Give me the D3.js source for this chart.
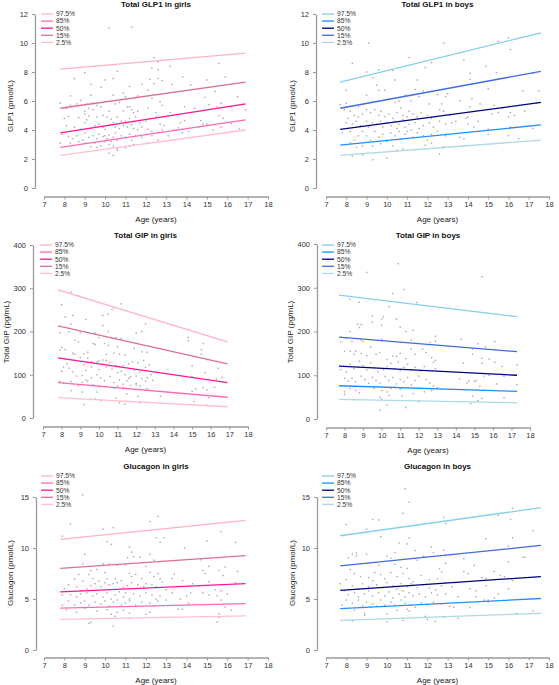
<!DOCTYPE html>
<html lang="en">
<head>
<meta charset="UTF-8">
<title>Hormone percentiles by age</title>
<style>
body { margin: 0; background: #fff; }
svg { display: block; font-family: "Liberation Sans", Arial, sans-serif; }
</style>
</head>
<body>
<div id="chart"></div>
<script src="https://cdnjs.cloudflare.com/ajax/libs/d3/7.8.2/d3.min.js"></script>
<script>
// ---- data ----
var percentiles = ["97.5%", "85%", "50%", "15%", "2.5%"];
var ageTicks = [7, 8, 9, 10, 11, 12, 13, 14, 15, 16, 17, 18];
var glp1Ticks = [0, 2, 4, 6, 8, 10, 12];
var gipTicks = [0, 100, 200, 300, 400];
var glucagonTicks = [0, 5, 10, 15];

// percentile lines: value at first and last age, in legend order
var glp1GirlsAges = [7.8, 16.9];
var glp1GirlsStart = [8.2, 5.5, 3.8, 2.8, 2.25];
var glp1GirlsEnd = [9.3, 7.3, 5.8, 4.7, 4.0];
var glp1BoysAges = [7.7, 17.6];
var glp1BoysStart = [7.3, 5.5, 4.05, 2.95, 2.25];
var glp1BoysEnd = [10.7, 8.05, 5.9, 4.35, 3.3];
var gipGirlsAges = [7.8, 16.9];
var gipGirlsStart = [296, 213, 139, 82, 47];
var gipGirlsEnd = [176, 125, 82, 48, 26];
var gipBoysAges = [7.7, 17.3];
var gipBoysStart = [283, 187, 121, 76, 45];
var gipBoysEnd = [234, 154, 100, 63, 37];
var glucagonGirlsAges = [7.8, 16.9];
var glucagonGirlsStart = [10.85, 8.0, 5.7, 4.1, 3.0];
var glucagonGirlsEnd = [12.7, 9.25, 6.5, 4.55, 3.35];
var glucagonBoysAges = [7.7, 17.6];
var glucagonBoysStart = [11.2, 8.25, 5.85, 4.05, 2.9];
var glucagonBoysEnd = [13.95, 10.25, 7.2, 5.05, 3.6];

// individual measurements [age, value]
var glp1GirlsPoints = [[10.2,11.05],[11.3,11.1],[12.4,9.0],[12.6,8.7],[13.2,8.4],[12.3,8.25],[12.6,8.15],[15.6,8.6],[9.0,7.95],[10.6,8.05],[8.5,7.55],[10.0,7.45],[10.4,7.55],[12.2,7.5],[12.4,7.2],[12.6,7.55],[12.8,7.4],[13.8,7.65],[14.2,7.1],[15.0,7.45],[15.9,7.65],[11.8,7.15],[9.3,7.15],[9.8,6.95],[11.2,7.0],[13.3,7.15],
[8.3,6.35],[8.8,6.05],[9.3,6.4],[10.4,6.4],[10.9,6.55],[11.0,6.3],[11.6,6.35],[12.1,6.75],[12.3,6.2],[12.7,5.95],[15.4,6.65],[16.5,6.3],[14.9,6.25],
[7.8,5.85],[8.1,5.5],[8.3,5.7],[8.6,5.8],[9.0,5.3],[9.1,5.8],[9.4,5.85],[9.6,5.7],[9.2,5.5],[9.4,5.4],[9.8,5.6],[10.5,5.8],[10.7,5.9],[10.2,5.3],[10.9,5.3],[11.1,5.6],[11.3,5.4],[11.6,5.3],[11.2,5.6],[12.1,5.5],[12.5,5.2],[12.8,5.7],[13.2,5.2],[13.9,5.6],[14.4,5.5],[15.1,5.75],[15.7,5.85],[15.5,5.6],[16.9,5.4],[16.2,5.6],[11.4,5.2],
[8.0,4.8],[8.2,4.95],[8.7,4.85],[9.0,5.1],[9.2,4.95],[9.1,4.7],[9.6,4.9],[9.9,5.0],[10.1,4.9],[10.3,4.75],[10.6,4.9],[10.8,4.6],[11.2,4.8],[11.0,4.6],[11.5,4.9],[11.7,4.5],[12.0,4.6],[12.2,4.8],[12.5,4.9],[12.7,4.4],[12.9,4.3],[13.7,4.5],[13.9,4.65],[14.7,4.65],[14.8,4.4],[15.0,4.4],[15.6,5.0],[15.8,4.8],[15.7,4.2],[16.2,4.45],[16.6,4.1],[14.0,4.1],[13.6,4.15],[13.5,4.0],
[8.1,4.3],[8.5,4.2],[8.8,4.05],[9.0,4.5],[9.3,4.1],[9.5,4.3],[9.7,4.4],[9.9,4.2],[10.0,4.05],[10.2,4.3],[10.4,4.5],[10.5,4.2],[10.7,4.1],[10.9,4.3],[11.1,4.2],[11.3,4.35],[11.4,4.1],[11.8,4.2],[12.1,4.05],[12.3,3.9],[12.6,3.85],[12.8,4.0],[14.1,3.9],[14.6,4.2],[15.3,4.0],[11.6,4.0],
[7.9,3.7],[8.2,3.55],[8.4,3.4],[8.6,3.6],[8.9,3.3],[9.0,3.8],[9.2,3.5],[9.4,3.6],[9.6,3.4],[9.7,3.7],[9.9,3.55],[10.0,3.6],[10.1,3.4],[10.2,3.65],[10.3,3.2],[10.4,3.5],[10.5,3.8],[10.6,3.3],[10.8,3.6],[11.0,3.5],[11.2,3.7],[11.3,3.3],[11.5,3.6],[11.8,3.5],[12.0,3.7],[12.3,3.6],[12.6,3.3],[13.1,3.6],[13.8,3.8],
[7.8,3.1],[8.3,3.1],[8.7,3.2],[9.0,3.1],[9.3,2.85],[9.6,2.8],[9.8,2.9],[10.0,3.2],[10.2,3.0],[10.4,2.9],[10.6,2.7],[11.0,2.75],[11.2,2.9],[11.4,3.0],[12.1,3.1],[10.2,2.4],[10.4,2.25],[10.6,2.6],[9.5,3.1]];

var glp1BoysPoints = [[9.1,10.0],[12.8,10.0],[16.0,10.35],[15.5,10.1],[16.1,9.55],[11.1,9.0],[13.8,8.85],[8.3,8.6],[12.2,8.65],[14.9,8.4],[11.9,8.3],[9.6,8.15],[10.3,8.1],[9.0,8.0],[15.4,7.95],[14.1,7.9],[17.2,7.9],[9.3,7.6],[14.1,7.5],[11.5,7.45],[10.4,7.45],[9.5,7.1],[8.0,6.75],[9.6,6.75],[9.9,6.75],[11.8,6.7],[11.4,6.8],[16.7,6.7],[17.5,6.7],[15.0,6.85],[12.5,6.45],[12.9,6.3],[13.0,6.5],[14.2,6.15],[9.0,6.4],[7.7,5.75],[8.0,5.85],[8.6,5.6],[10.0,6.1],[10.4,5.9],[10.6,6.0],[10.9,6.4],[11.2,6.0],[11.6,6.3],[12.1,5.8],[12.7,5.8],[13.6,6.0],[14.1,5.6],[14.6,5.8],[15.3,5.7],[15.7,5.5],[16.1,5.2],[16.8,5.3],[17.4,5.85],
[7.9,5.4],[8.2,5.3],[8.4,5.0],[8.6,4.9],[8.8,5.1],[9.0,5.4],[9.2,5.2],[9.4,5.4],[9.6,5.0],[9.7,5.3],[9.9,4.9],[10.1,5.1],[10.3,4.8],[10.5,5.2],[10.7,5.5],[10.8,5.0],[11.0,4.9],[11.1,5.3],[11.3,5.1],[11.5,4.9],[11.7,5.2],[12.0,5.0],[12.2,4.8],[12.6,5.4],[12.8,5.3],[13.1,5.0],[13.4,4.6],[13.9,4.8],[14.0,4.9],[14.5,4.6],[15.2,5.1],[15.5,5.2],[16.0,4.9],[16.3,5.0],
[8.0,4.5],[8.1,4.8],[8.3,4.4],[8.5,4.6],[8.7,4.3],[9.0,4.6],[9.1,4.2],[9.3,4.5],[9.5,4.4],[9.7,4.6],[9.8,4.2],[10.0,4.5],[10.2,4.3],[10.4,4.6],[10.5,4.1],[10.6,4.4],[10.8,4.7],[10.9,4.2],[11.1,4.4],[11.2,4.0],[11.4,4.5],[11.6,4.1],[11.8,4.3],[12.1,4.5],[12.3,4.2],[12.6,4.6],[12.9,4.4],[13.2,4.5],[14.0,4.4],[14.3,4.2],[15.0,4.05],[16.1,4.2],
[7.8,3.8],[8.2,3.9],[8.4,3.3],[8.6,3.6],[8.8,3.9],[9.0,3.6],[9.2,3.3],[9.4,3.9],[9.6,3.5],[9.8,3.7],[10.0,3.3],[10.2,3.8],[10.4,3.6],[10.6,3.9],[10.7,3.4],[10.9,3.7],[11.0,3.9],[11.3,3.5],[11.5,3.8],[11.8,3.6],[12.0,3.3],[12.2,3.7],[12.5,3.9],[12.9,3.6],[13.6,3.5],[13.8,3.4],[15.0,3.7],[16.0,3.6],[16.5,3.4],[17.2,4.1],
[8.2,3.1],[8.5,2.8],[8.8,2.9],[9.1,3.15],[9.3,2.9],[9.7,3.05],[10.0,3.2],[10.3,2.9],[10.8,2.7],[11.0,2.6],[11.9,2.95],[12.2,3.1],[12.8,2.85],[8.3,2.2],[8.8,2.3],[9.3,1.95],[10.0,2.05],[12.6,2.35],[10.5,2.6]];

var gipGirlsPoints = [[8.5,291],[8.9,283],[11.2,264],[8.0,262],[10.8,255],[10.5,240],[10.2,237],[8.2,234],[8.6,237],[10.7,251],[9.3,228],[12.5,218],[12.3,200],[12.0,196],[10.5,200],[10.2,214],[9.0,197],[7.9,197],[8.5,217],[8.4,199],[9.8,196],[10.0,186],[10.9,186],[11.2,184],[14.8,186],[14.8,179],[15.6,172],[15.5,158],[15.5,147],[15.8,135],[8.7,180],[8.9,176],[7.9,157],[8.0,163],[8.2,158],[8.6,150],[8.7,147],[9.2,148],[9.4,152],[9.7,172],[9.8,170],[10.3,172],[10.5,168],[10.7,185],[11.0,165],[11.4,145],[11.1,148],[10.8,150],[10.4,147],[10.2,134],[9.9,130],[9.7,127],[9.4,138],[9.0,140],[8.2,137],[8.3,125],[8.1,118],[8.4,115],[8.6,107],[8.0,108],[9.2,123],[9.6,130],[10.0,132],[10.4,133],[10.6,128],[10.9,122],[11.3,121],[11.6,125],[11.8,130],[12.1,128],[12.4,133],[12.3,153],[12.6,152],[12.7,123],[11.9,161],[12.2,106],[12.5,117],[12.8,100],[15.0,120],[15.7,105],[16.4,115],[16.6,94],
[9.3,110],[9.6,118],[10.0,112],[10.4,118],[10.7,113],[11.0,105],[11.2,108],[11.4,100],[11.6,92],[11.9,110],[12.0,97],[12.3,91],[12.5,85],[12.6,93],[12.9,87],[9.1,98],[9.3,88],[9.6,93],[9.9,100],[10.1,93],[10.3,86],[10.6,96],[10.8,82],[11.1,88],[11.3,78],[11.5,86],[11.7,95],[12.0,80],[12.2,74],[12.6,68],[15.0,95],[16.3,90],[7.9,85],[8.1,81],[8.5,84],[8.8,97],[8.9,75],[9.1,82],[9.4,85],[9.7,77],[10.0,73],[10.4,73],[10.8,69],[11.0,74],[11.3,70],[11.7,75],[12.0,76],[15.2,67],[15.6,70],[15.8,65],[16.2,71],[15.0,62],[8.5,63],[9.1,60],[9.9,60],[10.9,46],[11.5,56],[12.1,50],[13.3,50],[15.9,47],[9.5,43],[9.8,44],[10.1,40],[11.1,35],[11.4,32],[12.2,35],[9.2,31],[15.1,38],[15.8,29]];

var gipBoysPoints = [[10.9,355],[9.2,335],[15.4,325],[11.2,296],[10.6,287],[8.3,274],[8.8,267],[11.9,266],[10.4,257],[9.5,235],[10.1,234],[9.5,221],[10.0,229],[8.7,217],[8.9,216],[8.8,209],[10.0,214],[10.8,228],[11.0,210],[11.3,200],[11.7,203],[8.3,200],[8.1,185],[8.4,177],[8.9,180],[9.0,177],[10.0,182],[11.6,180],[12.6,175],[12.9,189],[12.9,178],[14.3,182],[15.2,172],[15.6,165],[16.1,177],[14.9,160],[7.8,176],[8.0,155],[8.3,155],[8.6,155],[8.5,148],[8.9,150],[9.2,145],[9.4,164],[9.7,148],[9.9,152],[10.3,136],[10.6,144],[10.8,143],[11.0,150],[11.3,138],[11.6,160],[11.8,148],[12.2,160],[12.4,152],[12.7,140],[12.9,134],[14.4,128],[14.9,148],[15.4,139],[15.4,128],[15.8,137],[16.1,130],[16.5,120],[17.3,124],[7.8,113],[8.0,120],[8.1,108],[8.3,125],[8.5,115],[8.8,132],[9.0,122],[9.2,112],[9.4,128],[9.6,118],[9.8,108],[10.1,113],[10.3,120],[10.5,127],[10.7,115],[10.9,130],[11.0,110],[11.2,118],[11.4,125],[11.6,112],[11.8,118],[12.1,110],[12.3,120],[12.8,130],[12.9,115],[14.2,92],[14.7,87],[15.0,86],[15.5,98],[15.8,100],[16.6,98],[17.3,78],
[8.0,93],[8.2,87],[8.4,93],[8.6,85],[8.9,98],[9.1,90],[9.3,82],[9.5,95],[9.7,88],[9.9,82],[10.2,97],[10.4,88],[10.6,95],[10.8,80],[11.0,90],[11.2,85],[11.4,95],[11.6,78],[11.8,88],[12.0,98],[12.4,90],[12.6,82],[12.8,75],[13.0,72],[14.6,82],[15.1,88],[15.3,75],[16.2,80],[8.0,62],[8.3,70],[8.6,65],[8.8,60],[9.6,70],[10.0,65],[10.3,62],[10.5,70],[10.7,73],[11.0,68],[11.7,58],[12.3,62],[12.7,65],[14.9,52],[15.4,47],[16.6,48],[8.0,56],[9.9,50],[10.0,46],[10.4,54],[11.1,53],[12.0,40],[8.5,44],[10.3,32],[9.9,20],[11.3,26],[14.8,35],[15.2,42]];

var glucagonGirlsPoints = [[8.9,15.2],[12.6,13.1],[8.3,12.35],[12.2,12.6],[10.4,12.0],[9.9,11.85],[12.5,11.0],[12.9,11.0],[15.7,11.6],[7.9,11.15],[12.7,10.55],[15.0,10.7],[16.4,10.55],[10.1,10.6],[10.3,10.35],[11.2,10.1],[13.9,10.0],[11.3,9.6],[12.2,9.4],[9.0,9.4],[11.4,9.15],[11.7,9.1],[12.4,8.8],[14.7,8.85],[12.0,8.2],[9.9,8.45],[10.2,8.45],[11.0,8.35],[10.6,8.3],[11.1,9.05],[8.9,8.45],[15.9,8.15],[15.1,8.2],[14.8,7.8],[15.6,7.8],[16.5,7.7],[9.6,7.9],[9.3,7.8],[10.0,7.6],[8.7,7.4],[9.2,7.4],[9.4,7.0],[8.5,6.95],[8.9,6.75],[9.7,6.75],[10.1,6.95],[10.5,7.0],[10.8,6.8],[11.2,7.5],[11.3,7.2],[11.5,7.4],[11.8,7.0],[12.2,7.6],[12.4,7.2],[12.6,7.5],[12.7,6.95],[13.4,7.45],[13.3,7.0],[13.8,6.8],[14.9,7.5],[15.8,7.3],[16.4,6.6],[15.1,6.7],[12.8,6.65],[8.0,6.0],[8.2,6.4],[8.6,6.2],[8.8,5.8],[9.1,6.0],[9.3,6.3],[9.5,6.5],[9.8,6.2],[10.0,6.6],[10.2,6.4],[10.4,6.5],[10.6,6.6],[10.9,6.1],[11.1,6.3],[11.3,6.6],[11.6,6.4],[11.9,6.2],[12.0,6.5],[12.3,6.4],[12.5,6.2],[13.0,5.9],[14.3,6.5],[14.6,6.3],[15.4,5.9],[15.7,5.8],
[7.9,5.4],[8.3,5.4],[8.6,5.2],[8.8,5.5],[9.1,5.6],[9.4,5.3],[9.6,5.5],[9.9,5.2],[10.1,5.6],[10.3,5.0],[10.5,5.4],[10.7,5.7],[10.9,5.2],[11.0,5.6],[11.2,5.0],[11.4,5.5],[11.7,5.3],[12.0,5.6],[12.3,5.4],[12.5,5.0],[12.7,5.3],[13.3,5.6],[14.0,5.3],[14.2,5.6],[14.8,5.6],[15.1,5.4],[15.5,5.3],[16.0,5.5],[8.2,4.8],[8.5,4.4],[8.8,4.6],[9.0,4.8],[9.2,4.4],[9.5,4.7],[9.8,4.5],[10.0,4.8],[10.2,4.3],[10.4,4.7],[10.6,4.9],[10.8,4.4],[11.0,4.6],[11.2,4.8],[11.5,4.4],[11.8,4.7],[12.2,4.6],[12.4,4.3],[12.6,4.8],[13.0,4.9],[13.7,5.0],[15.7,4.9],[15.9,4.2],[16.2,3.9],[7.9,4.4],[8.1,3.95],[8.6,3.7],[9.0,4.1],[9.6,3.8],[10.1,3.95],[10.3,3.5],[10.5,3.3],[10.6,3.7],[10.9,3.9],[11.2,3.6],[12.2,3.7],[12.0,3.5],[13.6,4.0],[13.8,4.0],[11.2,3.1],[9.3,2.7],[9.2,2.6],[10.4,2.35],[15.6,3.55],[15.5,2.75],[15.6,3.2],[14.1,4.6]];

var glucagonBoysPoints = [[10.9,15.8],[11.1,14.5],[10.8,13.4],[9.3,12.8],[9.6,12.75],[12.8,13.0],[12.9,12.4],[8.0,12.3],[16.2,13.9],[16.1,12.8],[15.5,13.2],[9.0,11.85],[9.7,11.1],[11.1,11.0],[16.2,11.0],[17.2,11.7],[14.9,10.9],[11.0,10.4],[10.6,10.5],[12.2,10.1],[16.0,10.2],[8.5,9.5],[8.3,9.4],[8.1,9.05],[9.0,9.4],[8.5,9.25],[10.0,9.2],[10.4,9.55],[11.4,9.75],[12.3,9.55],[12.8,9.8],[11.8,9.2],[11.5,8.8],[11.9,9.1],[12.9,9.25],[13.8,8.95],[16.7,9.1],[16.8,9.1],[16.0,8.65],[10.2,9.0],[10.9,8.9],[9.6,8.3],[10.4,8.4],[10.7,8.1],[11.0,8.0],[12.9,8.5],[14.3,8.3],[12.6,7.95],[12.7,7.65],[14.7,7.1],[14.9,7.0],[15.3,7.7],[15.6,7.3],[15.8,7.2],[16.2,6.8],[13.8,7.7],[14.0,7.5],[8.2,7.9],[8.4,7.5],[8.7,7.2],[9.1,7.1],[9.4,7.6],[9.7,7.4],[9.9,7.0],[10.2,7.6],[10.5,7.2],[10.8,7.5],[11.1,7.0],[11.3,6.7],[11.7,7.3],[12.1,6.9],[12.5,7.0],[12.9,6.6],[13.4,6.6],[7.7,6.5],[8.0,6.9],[8.3,6.3],[8.6,6.0],[8.8,6.5],[9.1,6.2],[9.3,6.8],[9.5,6.4],[9.8,6.1],[10.0,6.6],[10.3,6.3],[10.5,6.0],[10.7,6.5],[11.0,6.2],[11.2,6.5],[11.5,6.1],[11.8,6.4],[12.1,6.1],[12.4,5.9],[12.7,6.3],[13.2,6.2],[14.1,6.0],[14.4,5.8],[14.9,6.3],[15.5,5.5],[16.0,6.0],
[7.9,5.8],[8.1,5.4],[8.4,5.6],[8.6,5.2],[8.9,5.5],[9.1,5.8],[9.3,5.3],[9.6,5.6],[9.9,5.3],[10.1,5.7],[10.3,5.1],[10.6,5.5],[10.8,5.8],[10.9,5.2],[11.1,5.6],[11.3,5.3],[11.6,5.5],[11.9,5.2],[12.2,5.6],[12.5,5.4],[12.9,5.5],[13.5,5.2],[14.4,5.2],[15.0,4.9],[15.3,5.1],[8.0,4.9],[8.3,4.6],[8.6,4.9],[8.8,4.3],[9.0,4.7],[9.3,4.5],[9.5,4.3],[9.7,4.9],[9.9,4.4],[10.2,4.7],[10.4,4.4],[10.7,4.9],[10.9,4.6],[11.0,4.0],[11.2,4.4],[11.4,4.2],[11.7,4.6],[12.0,4.4],[12.3,4.7],[12.7,4.5],[13.1,4.3],[14.1,4.2],[14.8,4.9],[7.8,4.4],[8.4,3.9],[8.9,3.4],[9.2,4.2],[10.0,3.5],[10.5,3.9],[11.1,3.8],[11.9,3.3],[12.8,3.2],[13.5,3.1],[16.4,3.6],[17.2,3.85],[8.3,2.85],[10.0,2.75],[10.8,2.9],[12.0,3.0],[12.4,2.8],[8.9,3.6],[13.3,4.2],[15.0,4.7]];

// ---- drawing ----
var girlColors = ["#ffb3c1", "#ff69b4", "#ff1493", "#db7093", "#ffc0cb"];
var boyColors = ["#87ceeb", "#1e90ff", "#000080", "#4169e1", "#add8e6"];
// the plotted 85% and 15% lines use each other's legend colour in the original
var lineColorIndex = [0, 3, 2, 1, 4];
var axisGrey = "#9a9a9a";

var svg = d3.select("#chart").append("svg")
  .attr("width", 559)
  .attr("height", 685);

var panels = [
  {title: "Total GLP1 in girls", ylab: "GLP1 (pmol/L)", ymax: 12, ticks: glp1Ticks,
   points: glp1GirlsPoints, ages: glp1GirlsAges, start: glp1GirlsStart, end: glp1GirlsEnd, colors: girlColors,
   left: 44, right: 268, top: 14, bottom: 188, yAxisX: 35, xAxisY: 196.5, ylabX: 10, ylabY: 106, titleY: 7, legX: 41, legY: 14},
  {title: "Total GLP1 in boys", ylab: "GLP1 (pmol/L)", ymax: 12, ticks: glp1Ticks,
   points: glp1BoysPoints, ages: glp1BoysAges, start: glp1BoysStart, end: glp1BoysEnd, colors: boyColors,
   left: 326, right: 549, top: 14, bottom: 188, yAxisX: 316, xAxisY: 196.5, ylabX: 292, ylabY: 106, titleY: 7, legX: 322, legY: 14},
  {title: "Total GIP in girls", ylab: "Total GIP (pg/mL)", ymax: 400, ticks: gipTicks,
   points: gipGirlsPoints, ages: gipGirlsAges, start: gipGirlsStart, end: gipGirlsEnd, colors: girlColors,
   left: 43, right: 248, top: 245, bottom: 418, yAxisX: 33, xAxisY: 426.5, ylabX: 6, ylabY: 332, titleY: 238, legX: 40, legY: 245},
  {title: "Total GIP in boys", ylab: "Total GIP (pg/mL)", ymax: 400, ticks: gipTicks,
   points: gipBoysPoints, ages: gipBoysAges, start: gipBoysStart, end: gipBoysEnd, colors: boyColors,
   left: 326, right: 530, top: 244, bottom: 419, yAxisX: 317, xAxisY: 427.5, ylabX: 290, ylabY: 332, titleY: 238, legX: 322, legY: 245},
  {title: "Glucagon in girls", ylab: "Glucagon (pmol/L)", ymax: 15, ticks: glucagonTicks,
   points: glucagonGirlsPoints, ages: glucagonGirlsAges, start: glucagonGirlsStart, end: glucagonGirlsEnd, colors: girlColors,
   left: 44, right: 268, top: 497, bottom: 650, yAxisX: 36, xAxisY: 657.5, ylabX: 10, ylabY: 573, titleY: 469, legX: 41, legY: 476},
  {title: "Glucagon in boys", ylab: "Glucagon (pmol/L)", ymax: 15, ticks: glucagonTicks,
   points: glucagonBoysPoints, ages: glucagonBoysAges, start: glucagonBoysStart, end: glucagonBoysEnd, colors: boyColors,
   left: 326, right: 549, top: 497, bottom: 650, yAxisX: 317, xAxisY: 657.5, ylabX: 292, ylabY: 573, titleY: 469, legX: 322, legY: 476}
];

function styleAxis(sel) {
  sel.select(".domain").attr("stroke", axisGrey).attr("stroke-width", 1.3);
  sel.selectAll(".tick line").attr("stroke", axisGrey).attr("stroke-width", 1);
  sel.selectAll(".tick text").attr("fill", "#333").attr("font-size", 7.5)
    .attr("font-family", "'Liberation Sans', Arial, sans-serif");
}

panels.forEach(function(p) {
  var x = d3.scaleLinear().domain([7, 18]).range([p.left, p.right]);
  var y = d3.scaleLinear().domain([0, p.ymax]).range([p.bottom, p.top]);
  var g = svg.append("g");

  // axes
  g.append("g")
    .attr("transform", "translate(0," + p.xAxisY + ")")
    .call(d3.axisBottom(x).tickValues(ageTicks).tickSize(3).tickSizeOuter(0).tickPadding(2))
    .call(styleAxis);
  g.append("g")
    .attr("transform", "translate(" + p.yAxisX + ",0)")
    .call(d3.axisLeft(y).tickValues(p.ticks).tickSize(3).tickSizeOuter(0).tickPadding(4))
    .call(styleAxis);

  // measurements
  g.append("g").selectAll("rect")
    .data(p.points)
    .enter()
    .append("rect")
    .attr("x", function(d) { return x(d[0]) - 0.7; })
    .attr("y", function(d) { return y(d[1]) - 0.7; })
    .attr("width", 1.4)
    .attr("height", 1.4)
    .attr("fill", "#a8a8a8");

  // percentile lines
  var line = d3.line()
    .x(function(d) { return x(d[0]); })
    .y(function(d) { return y(d[1]); });
  percentiles.forEach(function(name, i) {
    g.append("path")
      .attr("d", line([[p.ages[0], p.start[i]], [p.ages[1], p.end[i]]]))
      .attr("fill", "none")
      .attr("stroke", p.colors[lineColorIndex[i]])
      .attr("stroke-width", 1.3);
  });

  // legend
  var leg = g.append("g").attr("transform", "translate(" + p.legX + "," + p.legY + ")");
  percentiles.forEach(function(name, i) {
    leg.append("line")
      .attr("x1", 0).attr("x2", 12)
      .attr("y1", i * 7.1).attr("y2", i * 7.1)
      .attr("stroke", p.colors[i])
      .attr("stroke-width", 1.3);
    leg.append("text")
      .attr("x", 15)
      .attr("y", i * 7.1)
      .attr("dy", "0.35em")
      .attr("font-size", 6.7)
      .attr("fill", "#333")
      .text(name);
  });

  // titles and labels
  g.append("text")
    .attr("x", (p.left + p.right) / 2)
    .attr("y", p.titleY)
    .attr("text-anchor", "middle")
    .attr("font-size", 8)
    .attr("font-weight", "bold")
    .attr("fill", "#111")
    .text(p.title);
  g.append("text")
    .attr("x", (p.left + p.right) / 2)
    .attr("y", p.xAxisY + 25)
    .attr("text-anchor", "middle")
    .attr("font-size", 8)
    .attr("fill", "#222")
    .text("Age (years)");
  g.append("text")
    .attr("transform", "translate(" + p.ylabX + "," + p.ylabY + ") rotate(-90)")
    .attr("text-anchor", "middle")
    .attr("dy", "0.35em")
    .attr("font-size", 8)
    .attr("fill", "#222")
    .text(p.ylab);
});
</script>
</body>
</html>
